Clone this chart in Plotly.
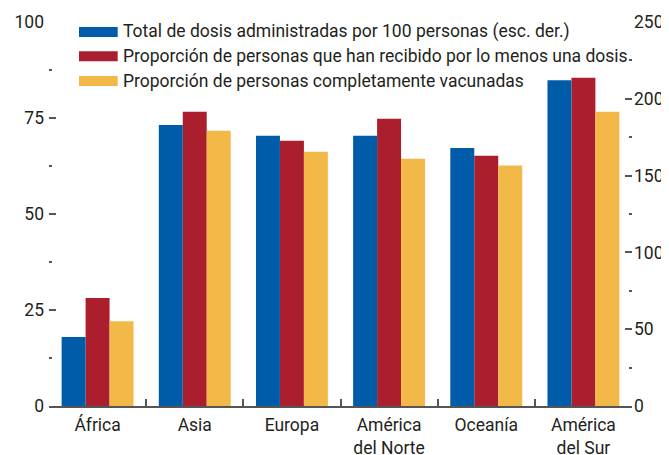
import plotly.graph_objects as go

categories = ["África", "Asia", "Europa", "América<br>del Norte", "Oceanía", "América<br>del Sur"]
series_names = [
    "Total de dosis administradas por 100 personas (esc. der.)",
    "Proporción de personas que han recibido por lo menos una dosis",
    "Proporción de personas completamente vacunadas",
]
total_doses = [45, 183, 176, 176, 168, 212]          # right axis
at_least_one = [28.1, 76.6, 69.1, 74.8, 65.2, 85.5]  # left axis
fully_vacc = [22.1, 71.7, 66.2, 64.4, 62.6, 76.6]    # left axis
colors = ["#005ba8", "#aa1e2e", "#f3b948"]

# page body has an 8px default margin; compensate so the figure fills the window
OFF = 8
W, H = 669 - OFF, 455 - OFF
L, R, T, B = 49 - OFF, 632 - OFF, 21.7 - OFF, 405.7 - OFF
FONT = "Roboto, Liberation Sans, sans-serif"
FS = 17.5
TXT = "#231f20"
AX = "#555555"

fig = go.Figure()
fig.add_trace(go.Bar(x=categories, y=total_doses, name=series_names[0], marker_color=colors[0],
                     yaxis="y2", offsetgroup="a", marker_line_width=0))
fig.add_trace(go.Bar(x=categories, y=at_least_one, name=series_names[1], marker_color=colors[1],
                     yaxis="y", offsetgroup="b", marker_line_width=0))
fig.add_trace(go.Bar(x=categories, y=fully_vacc, name=series_names[2], marker_color=colors[2],
                     yaxis="y", offsetgroup="c", marker_line_width=0))

def px_x(p):
    return (p - OFF - L) / (R - L)

def px_y(p):
    return (B - (p - OFF)) / (B - T)

shapes = []
annotations = []
row_centers = [31.7, 56, 80.8]
for name, col, yc in zip(series_names, colors, row_centers):
    shapes.append(dict(type="rect", xref="paper", yref="paper",
                       x0=px_x(79), x1=px_x(117.7), y0=px_y(yc - 5), y1=px_y(yc + 5),
                       fillcolor=col, line_width=0))
    annotations.append(dict(xref="paper", yref="paper", x=px_x(121), y=px_y(yc),
                            xanchor="left", yanchor="middle", text=name, showarrow=False,
                            font=dict(family=FONT, size=FS, color=TXT)))

fig.update_layout(
    width=W, height=H,
    margin=dict(l=L, r=W - R, t=T, b=H - B, pad=0, autoexpand=False),
    paper_bgcolor="white", plot_bgcolor="white",
    barmode="group", bargap=0.26, bargroupgap=0,
    showlegend=False,
    font=dict(family=FONT, size=FS, color=TXT),
    xaxis=dict(type="category", showgrid=False, zeroline=False, automargin=False,
               showline=True, linecolor=AX, linewidth=1.5,
               ticks="inside", tickson="boundaries", ticklen=7, tickcolor=AX, tickwidth=1.5,
               ticklabelstandoff=2,
               tickfont=dict(family=FONT, size=FS, color=TXT)),
    yaxis=dict(range=[0, 100], tickvals=[0, 25, 50, 75, 100], showgrid=False, zeroline=False,
               showline=False, automargin=False,
               ticks="inside", ticklen=7, tickcolor=AX, tickwidth=1.5,
               ticklabelstandoff=4,
               minor=dict(tickvals=[12.5, 37.5, 62.5, 87.5], ticks="inside", ticklen=3,
                          tickcolor=AX, tickwidth=1.5, showgrid=False),
               tickfont=dict(family=FONT, size=FS, color=TXT)),
    yaxis2=dict(range=[0, 250], tickvals=[0, 50, 100, 150, 200, 250], overlaying="y", side="right",
                showgrid=False, zeroline=False, showline=False, automargin=False,
                ticks="inside", ticklen=7, tickcolor=AX, tickwidth=1.5,
                ticklabelstandoff=1,
                minor=dict(tickvals=[25, 75, 125, 175, 225], ticks="inside", ticklen=3,
                           tickcolor=AX, tickwidth=1.5, showgrid=False),
                tickfont=dict(family=FONT, size=FS, color=TXT)),
    shapes=shapes,
    annotations=annotations,
)

fig.write_html("out.html")
